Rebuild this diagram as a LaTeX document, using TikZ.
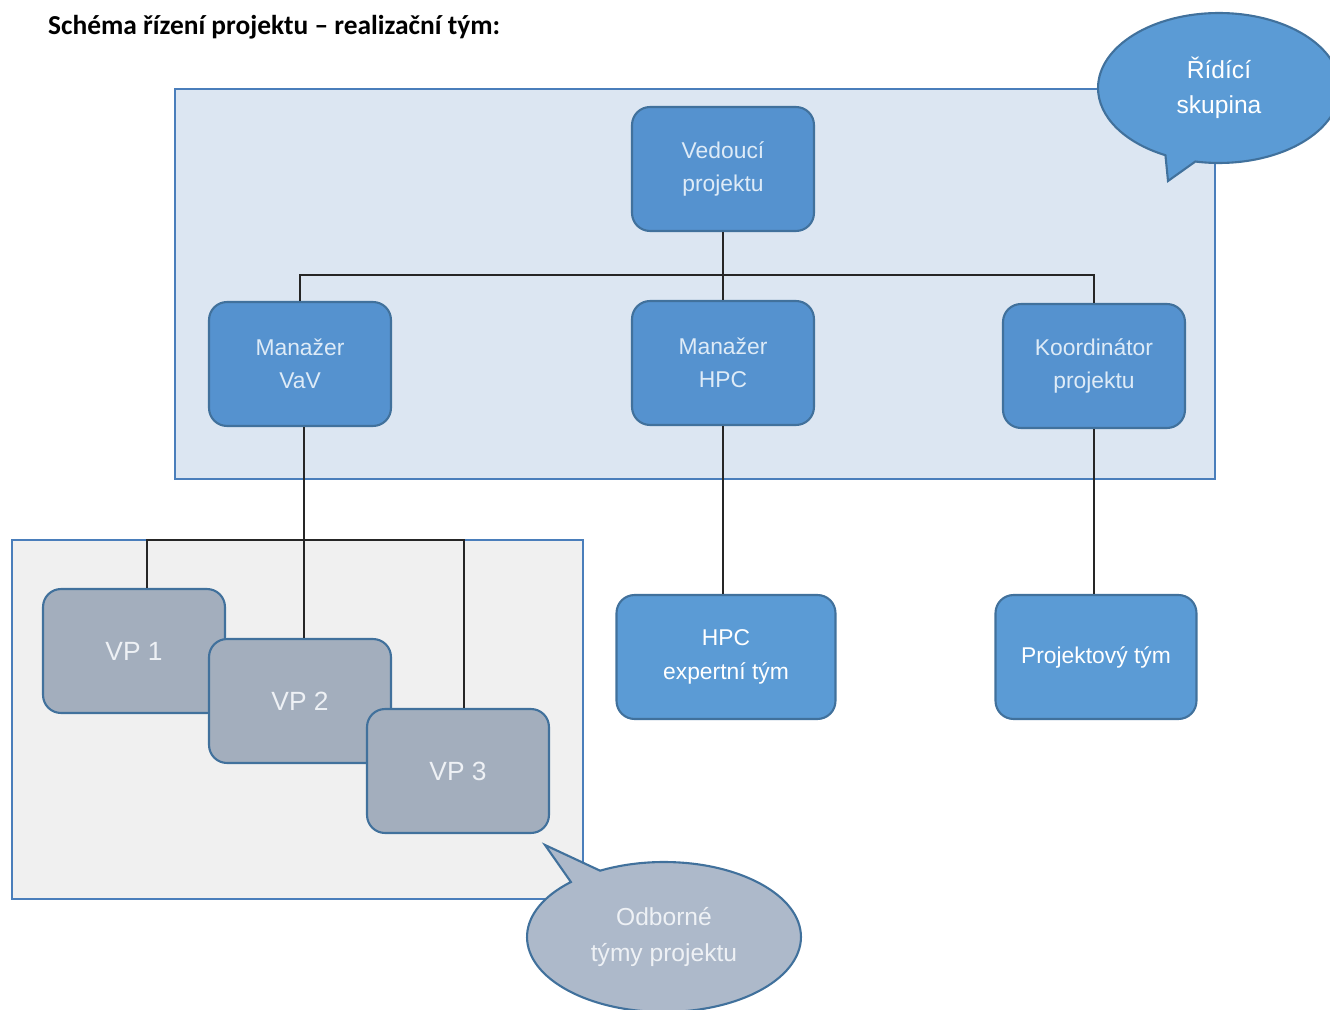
\documentclass[tikz,border=0pt]{standalone}
\usepackage{fontspec}
\setmainfont{Liberation Sans}
\newfontfamily\titlefont{Carlito}
\usetikzlibrary{shapes.geometric,shapes.callouts}
\definecolor{panelblue}{HTML}{DCE6F2}
\definecolor{panelline}{HTML}{4A7EBB}
\definecolor{greypanel}{HTML}{F0F0F0}
\definecolor{boxblue}{HTML}{5592CF}
\definecolor{teamblue}{HTML}{5B9BD5}
\definecolor{boxline}{HTML}{41719C}
\definecolor{boxtext}{HTML}{DEEBF7}
\definecolor{vpgrey}{HTML}{A3AEBD}
\definecolor{vptext}{HTML}{EEF1F5}
\definecolor{bubblegrey}{HTML}{ADB9CA}

\begin{document}
\begin{tikzpicture}[x=0.02cm,y=-0.02cm,
	box/.style={draw=boxline,line width=1.2pt,fill=boxblue,rounded corners=0.36cm,
		minimum width=3.64cm,minimum height=2.48cm,align=center,text=boxtext,
		font=\fontsize{13}{19}\selectfont},
	teambox/.style={box,fill=teamblue,text=white},
	vpbox/.style={box,fill=vpgrey,text=vptext,font=\fontsize{15}{18}\selectfont},
	bubble/.style={ellipse callout,draw=boxline,line width=1.2pt,inner sep=0pt,
		align=center,font=\fontsize{14}{20}\selectfont},
	link/.style={draw=black!85,line width=0.6pt}]
	\clip (0,0) rectangle (1330,1010);
	%\draw[step=100,gray,very thin] (0,0) grid (1330,1010);
	\node[anchor=west,font=\titlefont\bfseries\fontsize{15.6}{18}\selectfont] (title) at (42,27)
		{Schéma řízení projektu – realizační tým:};

	% panels
	\draw[fill=panelblue,draw=panelline,line width=1.2pt] (175,89) rectangle (1215,479);
	\draw[fill=greypanel,draw=panelline,line width=1.2pt] (12,540) rectangle (583,899);

	% speech bubbles
	\node[bubble,fill=teamblue,text=white,minimum width=4.84cm,minimum height=3cm,
		callout absolute pointer={(1168,181)}] (steer) at (1219,88) {Řídící\\skupina};
	\node[bubble,fill=bubblegrey,text=vptext,minimum width=5.48cm,minimum height=3cm,
		callout absolute pointer={(545,845)}] (expert) at (664,937) {Odborné\\týmy projektu};

	% management
	\node[box] (lead) at (723,169) {Vedoucí\\projektu};
	\node[box] (vav) at (300,364) {Manažer\\VaV};
	\node[box] (hpc) at (723,363) {Manažer\\HPC};
	\node[box] (koord) at (1094,366) {Koordinátor\\projektu};

	% teams
	\foreach \n/\x/\y in {1/134/651, 2/300/701, 3/458/771}
		\node[vpbox] (vp\n) at (\x,\y) {VP \n};
	\node[teambox,minimum width=4.38cm] (hpcteam) at (726,657) {HPC\\expertní tým};
	\node[teambox,minimum width=4.02cm] (projteam) at (1096,657) {Projektový tým};

	% connectors
	\coordinate (topbar) at (723,275);
	\coordinate (vpbar) at (304,540);
	\draw[link] (lead.south) -- (hpc.north);
	\draw[link] (vav.north) |- (topbar) -| (koord.north);
	\draw[link] (hpc.south) -- (hpc.south |- hpcteam.north);
	\draw[link] (koord.south) -- (koord.south |- projteam.north);
	\draw[link] (vav.south -| vpbar) -- (vpbar);
	\draw[link] ([xshift=0.26cm]vp1.north) |- (vpbar) -| ([xshift=0.12cm]vp3.north);
	\draw[link] (vpbar) -- (vpbar |- vp2.north);
\end{tikzpicture}
\end{document}
